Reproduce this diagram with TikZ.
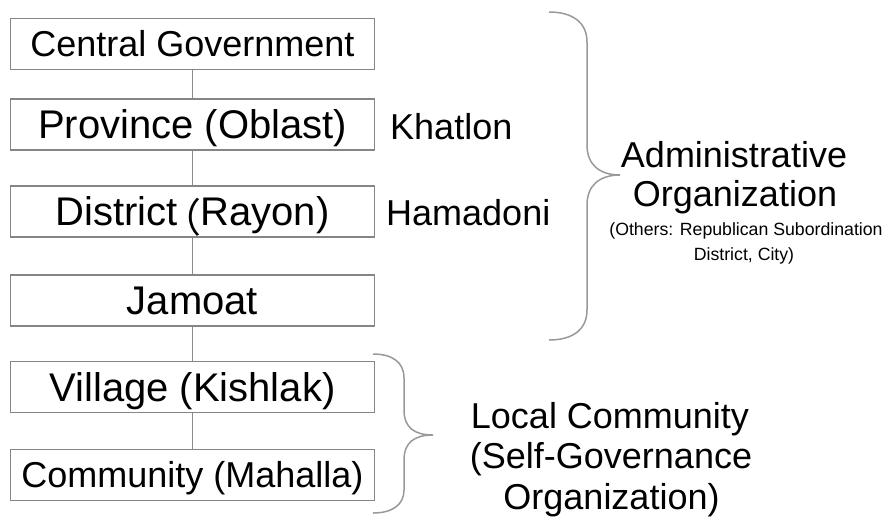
\documentclass[tikz,border=0pt]{standalone}
\usepackage{fontspec}
\setmainfont{Liberation Sans}
\newfontfamily\cjkfont{Noto Sans CJK SC}
\definecolor{boxgray}{gray}{0.52}
\definecolor{linegray}{gray}{0.55}
\definecolor{bracegray}{gray}{0.6}
\begin{document}
\begin{tikzpicture}[x=1pt,y=-1pt,
  tier/.style={draw=boxgray, line width=1.3pt, minimum width=364pt, minimum height=51pt,
    inner sep=0pt, text height=28.6pt, text depth=0pt, font=\fontsize{40}{44}\selectfont},
  tiersmall/.style={tier, text height=25.8pt, font=\fontsize{36}{40}\selectfont},
  link/.style={draw=linegray, line width=1.2pt},
  bracepath/.style={draw=bracegray, line width=1.5pt},
  side/.style={anchor=west, inner sep=0pt, text height=25.8pt, text depth=0pt,
    font=\fontsize{36}{40}\selectfont},
  caption/.style={anchor=base, inner sep=0pt, font=\fontsize{36}{40}\selectfont},
  note/.style={anchor=base, inner sep=0pt, font=\fontsize{17.7}{20}\selectfont}]

\fill[white] (0,0) rectangle (890,523);
\useasboundingbox (0,0) rectangle (890,523);

% hierarchy of tiers
\node[tiersmall] (central)   at (192.5,44)    {Central Government};
\node[tier]      (province)  at (192.5,124.5) {Province (Oblast)};
\node[tier]      (district)  at (192.5,211.5)
  {District\kern-16pt\raisebox{-7pt}{\cjkfont （}\kern-1pt Rayon)};
\node[tier]      (jamoat)    at (192.5,300.5) {Jamoat};
\node[tier]      (village)   at (192.5,387)   {Village (Kishlak)};
\node[tiersmall] (community) at (192.5,475)   {Community (Mahalla)};

\draw[link] (central)  -- (province);
\draw[link] (province) -- (district);
\draw[link] (district) -- (jamoat);
\draw[link] (jamoat)   -- (village);
\draw[link] (village)  -- (community);

% example names
\node[side] (khatlon)  at (390,126.5) {Khatlon};
\node[side] (hamadoni) at (386,213)   {Hamadoni};

% upper brace
\draw[bracepath] (549,12) .. controls (572,12) and (587,22) .. (587,42)
  -- (587,145) .. controls (587,165) and (600,175) .. (620,175)
  .. controls (600,175) and (587,185) .. (587,205)
  -- (587,310) .. controls (587,330) and (572,340) .. (549,340);

\node[caption] (adm1) at (734,167.5) {Administrative};
\node[caption] (adm2) at (735,206.5) {Organization};
\node[note] (oth1) at (746,235) {(Others: Republican Subordination};
\node[note] (oth2) at (744,260) {District, City)};

% lower brace
\draw[bracepath] (373,354) .. controls (392,354) and (404,362) .. (404,378)
  -- (404,410) .. controls (404,428) and (415,435) .. (433,435)
  .. controls (415,435) and (404,442) .. (404,460)
  -- (404,490) .. controls (404,505) and (392,513) .. (373,513);

\node[caption] (loc1) at (610,428) {Local Community};
\node[caption] (loc2) at (611,468) {(Self-Governance};
\node[caption] (loc3) at (611.5,509) {Organization)};
\end{tikzpicture}
\end{document}
